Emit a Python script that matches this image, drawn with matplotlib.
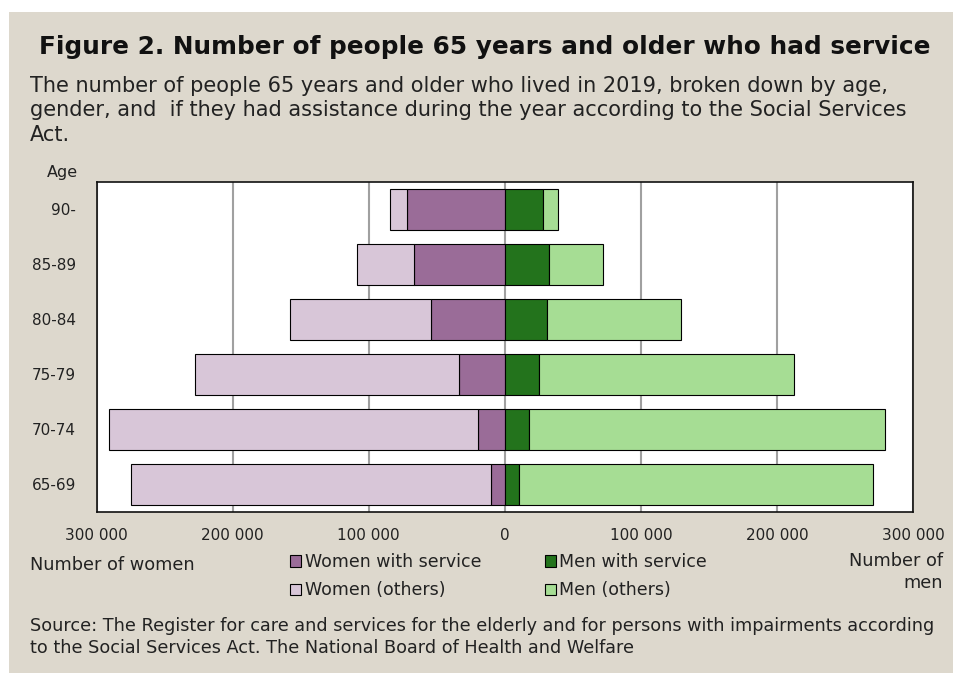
import numpy as np
import matplotlib.pyplot as plt
from matplotlib.patches import Rectangle, Patch
from matplotlib.ticker import FuncFormatter

ages = ['65-69', '70-74', '75-79', '80-84', '85-89', '90-']
women_service = [10000, 20000, 34000, 54000, 67000, 72000]
women_others = [265000, 270600, 194100, 104200, 41700, 12500]
men_service = [10500, 18100, 25400, 31300, 32400, 27700]
men_others = [260100, 261000, 187100, 98100, 39700, 11300]

c_ws = '#9a6c98'
c_wo = '#d8c6d8'
c_ms = '#23731c'
c_mo = '#a6dd94'
bg = '#ddd8cd'
txt = '#222222'

plt.rcParams['font.family'] = 'DejaVu Sans'

# beige panel, with a thin white margin only at the top and left
fig = plt.figure(figsize=(9.54, 6.73), dpi=100, facecolor=bg)
fig.patches.append(Rectangle((-0.05, 1 - 12 / 673), 1.2, 0.1, transform=fig.transFigure,
                             facecolor='white', edgecolor='none', zorder=-10))
fig.patches.append(Rectangle((-0.05, -0.05), 0.05 + 9 / 954, 1.2, transform=fig.transFigure,
                             facecolor='white', edgecolor='none', zorder=-10))

ax = fig.add_axes([96.7 / 954, 1 - 511.7 / 673, 816.3 / 954, 330 / 673])
ax.set_facecolor('white')

y = np.arange(len(ages))
ws = np.array(women_service)
wo = np.array(women_others)
ms = np.array(men_service)
mo = np.array(men_others)
h = 0.74
kw = dict(height=h, edgecolor='black', linewidth=0.8, zorder=3)
ax.barh(y, -ws, color=c_ws, **kw)
ax.barh(y, -wo, left=-ws, color=c_wo, **kw)
ax.barh(y, ms, color=c_ms, **kw)
ax.barh(y, mo, left=ms, color=c_mo, **kw)

ax.set_xlim(-300000, 300000)
ax.set_ylim(-0.5, len(ages) - 0.5)
ax.set_xticks(np.arange(-300000, 300001, 100000))
ax.xaxis.set_major_formatter(FuncFormatter(lambda v, p: f'{abs(int(v)):,}'.replace(',', ' ')))
ax.set_yticks(y)
ax.set_yticklabels(ages)
ax.tick_params(length=0, labelsize=11, colors=txt)
ax.tick_params(axis='x', pad=12)
ax.tick_params(axis='y', pad=15)
ax.grid(axis='x', color='#a0a0a0', linewidth=1.5, zorder=0)
for s in ax.spines.values():
    s.set_linewidth(1.2)
    s.set_color('#111111')

fig.text(485 / 954, 1 - 47 / 673, 'Figure 2. Number of people 65 years and older who had service',
         ha='center', va='center', fontsize=17.8, fontweight='bold', color='#111111')
fig.text(30 / 954, 1 - 76 / 673,
         'The number of people 65 years and older who lived in 2019, broken down by age,\n'
         'gender, and  if they had assistance during the year according to the Social Services\n'
         'Act.',
         ha='left', va='top', fontsize=15, color=txt, linespacing=1.27)
fig.text(62 / 954, 1 - 173 / 673, 'Age', ha='center', va='center', fontsize=11.5, color=txt)
fig.text(30 / 954, 1 - 565 / 673, 'Number of women', ha='left', va='center', fontsize=12.8, color=txt)
fig.text(943 / 954, 1 - 572 / 673, 'Number of\nmen', ha='right', va='center', fontsize=12.8,
         color=txt, linespacing=1.25)

handles = [Patch(facecolor=c_ws, edgecolor='black', linewidth=0.8, label='Women with service'),
           Patch(facecolor=c_wo, edgecolor='black', linewidth=0.8, label='Women (others)'),
           Patch(facecolor=c_ms, edgecolor='black', linewidth=0.8, label='Men with service'),
           Patch(facecolor=c_mo, edgecolor='black', linewidth=0.8, label='Men (others)')]
fig.legend(handles=handles, ncol=2, loc='upper left', bbox_to_anchor=(290 / 954, 1 - 553 / 673),
           frameon=False, fontsize=12.5, handlelength=0.65, handleheight=0.65, handletextpad=0.2,
           columnspacing=3.65, labelspacing=0.6, borderaxespad=0, borderpad=0, labelcolor=txt)

fig.text(30 / 954, 1 - 617 / 673,
         'Source: The Register for care and services for the elderly and for persons with impairments according\n'
         'to the Social Services Act. The National Board of Health and Welfare',
         ha='left', va='top', fontsize=12.7, color=txt, linespacing=1.28)

fig.savefig('out.png', dpi=100, facecolor=fig.get_facecolor())
